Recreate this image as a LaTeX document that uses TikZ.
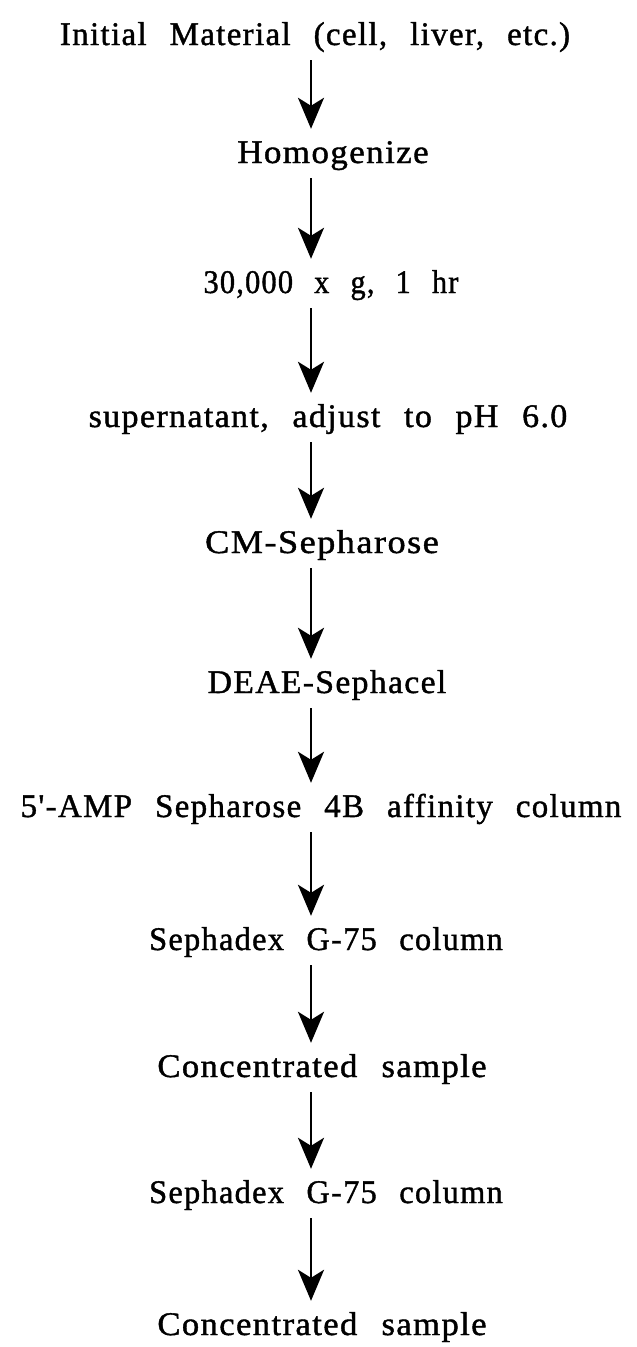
\documentclass[tikz,border=0pt]{standalone}
\usepackage{fontspec}
\usepackage{graphicx}
\setmainfont[WordSpace={2.4,1,1}, LetterSpace=4, Ligatures=TeXOff, FakeBold=1.2]{Liberation Serif}
\usetikzlibrary{arrows.meta}
\begin{document}
\begin{tikzpicture}[x=1pt,y=-1pt,
  lbl/.style={inner sep=0pt, font=\fontsize{33}{40}\selectfont, text height=23pt, text depth=7pt},
  flow/.style={line width=2.8pt, -{Stealth[length=31pt,width=26pt,inset=8pt]}, shorten <=8pt, shorten >=11pt}]
\fill[white] (0,0) rectangle (637,1347);
\useasboundingbox (0,0) rectangle (637,1347);
\coordinate (ax) at (311,0);
\node[lbl] (n1) at (315,37) {Initial Material (cell, liver, etc.)};
\node[lbl] (n2) at (333,155) {\scalebox{1.06}[1]{Homogenize}};
\node[lbl] (n3) at (331,285) {\scalebox{0.92}[1]{30,000 x g, 1 hr}};
\node[lbl] (n4) at (328,419) {\scalebox{1.03}[1]{supernatant, adjust to pH 6.0}};
\node[lbl] (n5) at (322,545) {\scalebox{1.1}[1]{CM-Sepharose}};
\node[lbl] (n6) at (327,685) {\scalebox{1.02}[1]{DEAE-Sephacel}};
\node[lbl] (n7) at (321,809) {\scalebox{1.0}[1]{5'-AMP Sepharose 4B affinity column}};
\node[lbl] (n8) at (326,942) {\scalebox{0.98}[1]{Sephadex G-75 column}};
\node[lbl] (n9) at (322,1069) {\scalebox{1.05}[1]{Concentrated sample}};
\node[lbl] (n10) at (326,1195) {\scalebox{0.98}[1]{Sephadex G-75 column}};
\node[lbl] (n11) at (322,1327) {\scalebox{1.05}[1]{Concentrated sample}};
\foreach \a/\b in {n1/n2,n2/n3,n3/n4,n4/n5,n5/n6,n6/n7,n7/n8,n8/n9,n9/n10,n10/n11}
  \draw[flow] (\a.south -| ax) -- (\b.north -| ax);
\end{tikzpicture}
\end{document}
